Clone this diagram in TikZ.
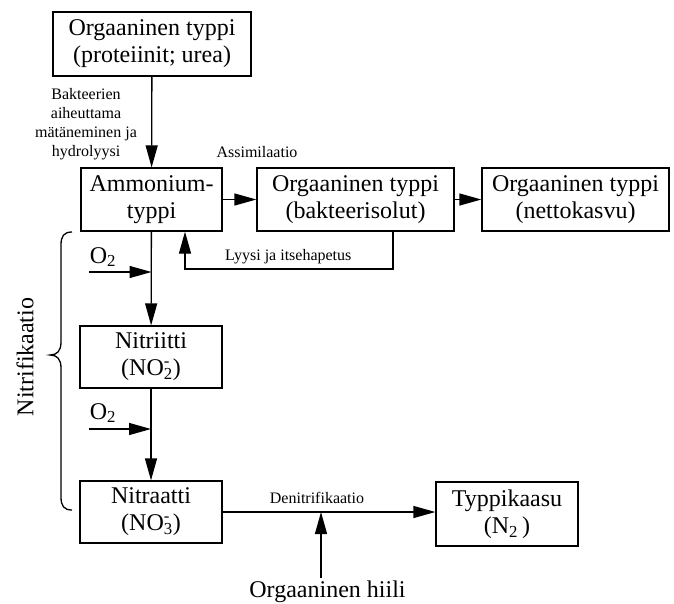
\documentclass[tikz,border=0pt]{standalone}
\usepackage{fontspec}
\setmainfont{Liberation Serif}
\usetikzlibrary{arrows.meta}
\begin{document}
\begin{tikzpicture}[x=1pt,y=-1pt,
  box/.style={draw,line width=1.3pt,align=center,inner sep=0pt,
    font=\fontsize{24}{27}\selectfont},
  lbl/.style={inner sep=0pt,align=center,font=\fontsize{16}{19}\selectfont},
  big/.style={inner sep=0pt,align=center,font=\fontsize{24}{27}\selectfont},
  conn/.style={line width=1.3pt,-{Triangle[length=22pt,width=12pt]}},
  plain/.style={line width=1.3pt}]
\useasboundingbox (0,0) rectangle (674,603);
\node[box,minimum width=198pt,minimum height=64pt] (top) at (152,44) {Orgaaninen typpi\\(proteiinit; urea)};
\node[box,minimum width=141pt,minimum height=63pt] (amm) at (151.5,199.5) {Ammonium-\\typpi};
\node[box,minimum width=197pt,minimum height=63pt] (bak) at (355.5,199.5) {Orgaaninen typpi\\(bakteerisolut)};
\node[box,minimum width=187pt,minimum height=63pt] (net) at (575.5,199.5) {Orgaaninen typpi\\(nettokasvu)};
\node[box,minimum width=142pt,minimum height=62pt] (nit2) at (151,357) {Nitriitti\\(NO\rlap{\textsuperscript{-}}\textsubscript{2})};
\node[box,minimum width=142pt,minimum height=62pt] (nit3) at (151,512) {Nitraatti\\(NO\rlap{\textsuperscript{-}}\textsubscript{3})};
\node[box,minimum width=142pt,minimum height=64pt] (typ) at (507,514) {Typpikaasu\\(N\textsubscript{2}\,)};

\node[lbl] (bakl) at (86,124) {Bakteerien\\aiheuttama\\mätäneminen ja\\hydrolyysi};
\node[lbl] (assl) at (257,152) {Assimilaatio};
\node[lbl,anchor=west] (lyl) at (225,257) {Lyysi ja itsehapetus};
\node[lbl] (denl) at (317,498) {Denitrifikaatio};
\node[big,rotate=90] (nitl) at (25,357) {Nitrifikaatio};
\node[big] (o2a) at (103,257) {O\textsubscript{2}};
\node[big] (o2b) at (103,413) {O\textsubscript{2}};
\node[big] (hiili) at (327.5,592) {Orgaaninen hiili};

\draw[conn] (top) -- (amm);
\draw[conn] (amm) -- (bak);
\draw[conn] (bak) -- (net);
\draw[conn] (amm) -- (nit2);
\draw[conn] (nit2) -- (nit3);
\coordinate (l1) at (393,269);
\coordinate (l2) at (185,269);
\draw[conn] (bak.south -| l1) |- (l2) -- (amm.south -| l2);
\coordinate (o1) at (89,272);
\coordinate (o2) at (89,429);
\draw[conn] (o1) -- (o1 -| amm.south);
\draw[conn] (o2) -- (o2 -| nit2.south);
\draw[conn] (nit3.east) -- (nit3.east -| typ.west);
\coordinate (dn) at (321,512);
\coordinate (hs) at (321,578);
\draw[conn] (hs) -- (dn);
\draw[plain] (72,232) .. controls (64,232) and (61,236) .. (61,245) -- (61,342)
  .. controls (61,351) and (57,355) .. (50,355)
  .. controls (57,355) and (61,359) .. (61,368) -- (61,497)
  .. controls (61,506) and (64,510) .. (72,510);
\end{tikzpicture}
\end{document}
